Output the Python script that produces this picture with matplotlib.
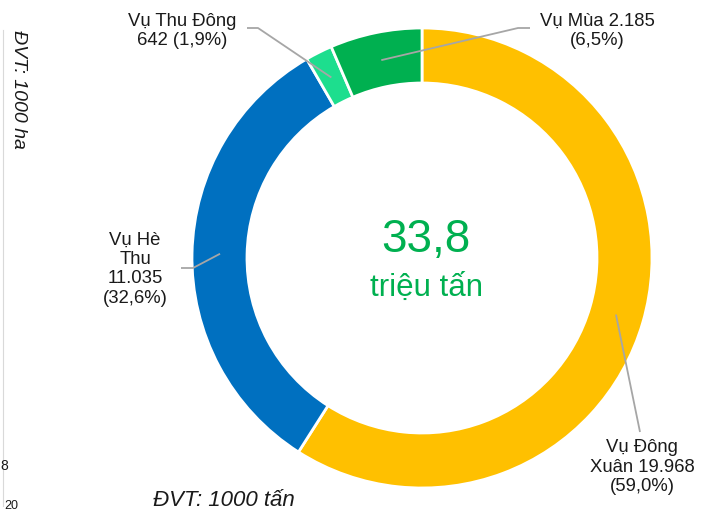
import numpy as np
import matplotlib.pyplot as plt

plt.rcParams['font.family'] = ['Liberation Sans', 'DejaVu Sans']

# Sản lượng lúa theo mùa vụ (1000 tấn)
vu = ['Vụ Đông\nXuân', 'Vụ Hè\nThu', 'Vụ Thu Đông', 'Vụ Mùa']
san_luong = [19968, 11035, 642, 2185]
nhan = ['Vụ Đông\nXuân 19.968\n(59,0%)',
        'Vụ Hè\nThu\n11.035\n(32,6%)',
        'Vụ Thu Đông\n642 (1,9%)',
        'Vụ Mùa 2.185\n(6,5%)']
mau = ['#FFC000', '#0070C0', '#1DDE8E', '#00B050']
tong = '33,8'

W, H = 708, 513
fig = plt.figure(figsize=(W / 100, H / 100), dpi=100)
ax = fig.add_axes([0, 0, 1, 1])

cx, cy, R = 422, H - 258, 230
wedges, _ = ax.pie(san_luong, colors=mau, startangle=90, counterclock=False,
                   radius=R, center=(cx, cy), frame=True,
                   wedgeprops=dict(width=55, edgecolor='white', linewidth=2))
ax.set_xlim(0, W)
ax.set_ylim(0, H)
ax.set_aspect('equal')
ax.axis('off')

# vị trí nhãn: điểm gấp, vị trí chữ, đầu đoạn ngang
bo_tri = [((640, 432), (642, 467)),
          ((193, 268), (135, 269)),
          ((258, 28), (182, 31)),
          ((518, 28), (597, 31))]
dau_ngang = [None, (181, 268), (247, 28), (530, 28)]

for w, (gap, pos), ngang, txt in zip(wedges, bo_tri, dau_ngang, nhan):
    goc = np.deg2rad((w.theta1 + w.theta2) / 2)
    ax_ = cx + 202 * np.cos(goc)
    ay_ = cy + 202 * np.sin(goc)
    xs = [ax_, gap[0]]
    ys = [ay_, H - gap[1]]
    if ngang is not None:
        xs.append(ngang[0])
        ys.append(H - ngang[1])
    ax.plot(xs, ys, color='#A6A6A6', lw=1.3, solid_capstyle='butt')
    ax.text(pos[0], H - pos[1], txt, ha='center', va='center', fontsize=13.3,
            color='#1a1a1a', linespacing=1.18)

ax.text(cx + 4, H - 240, tong, ha='center', va='center', fontsize=33, color='#00B050')
ax.text(cx + 5, H - 288, 'triệu tấn', ha='center', va='center', fontsize=22.5, color='#00B050')

ax.text(224, H - 501, 'ĐVT: 1000 tấn', ha='center', va='center', fontsize=16,
        style='italic', color='#1a1a1a')

# phần biểu đồ bên trái bị cắt
ax.plot([2.5, 2.5], [H - 30, H - 506], color='#D9D9D9', lw=0.8)
ax.text(18, H - 89, 'ĐVT: 1000 ha', ha='center', va='center', rotation=-90,
        fontsize=14, style='italic', color='#1a1a1a')
ax.text(0.5, H - 466, '8', ha='left', va='center', fontsize=10, color='#1a1a1a')
ax.text(4, H - 506, '20', ha='left', va='center', fontsize=9, color='#1a1a1a')

fig.savefig('out.png', dpi=100)
